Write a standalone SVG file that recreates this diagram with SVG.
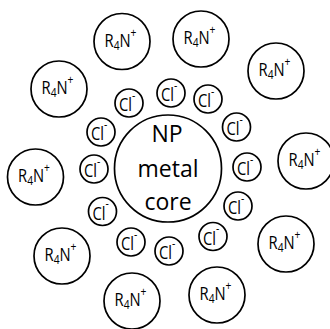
<svg xmlns="http://www.w3.org/2000/svg" width="330" height="329" viewBox="0 0 330 329">
<style>
circle{fill:#fff;stroke:#000;stroke-width:1.7}
text{font-family:"Open Sans","Noto Sans",sans-serif;fill:#000}
.core{font-size:23px;text-anchor:middle}
.ion{font-size:18px}
.cl{font-size:18px}
.s{font-size:12.5px}
</style>
<rect width="330" height="329" fill="#fff"/>
<g id="core">
<circle cx="168" cy="168.5" r="53.5"/>
<text class="core" x="167" y="142">NP</text>
<text class="core" x="168" y="177">metal</text>
<text class="core" x="168" y="210">core</text>
</g>
<g id="chlorides">
<g id="cl1"><circle cx="129" cy="103" r="14"/><text class="cl" transform="translate(129 103) scale(.82 1)" x="-12.2" y="8">Cl<tspan class="s" dy="-11.4">-</tspan></text></g>
<g id="cl2"><circle cx="171" cy="93" r="14"/><text class="cl" transform="translate(171 93) scale(.82 1)" x="-12.2" y="8">Cl<tspan class="s" dy="-11.4">-</tspan></text></g>
<g id="cl3"><circle cx="208" cy="99" r="14"/><text class="cl" transform="translate(208 99) scale(.82 1)" x="-12.2" y="8">Cl<tspan class="s" dy="-11.4">-</tspan></text></g>
<g id="cl4"><circle cx="101" cy="132" r="14"/><text class="cl" transform="translate(101 132) scale(.82 1)" x="-12.2" y="8">Cl<tspan class="s" dy="-11.4">-</tspan></text></g>
<g id="cl5"><circle cx="236.5" cy="127" r="14"/><text class="cl" transform="translate(236.5 127) scale(.82 1)" x="-12.2" y="8">Cl<tspan class="s" dy="-11.4">-</tspan></text></g>
<g id="cl6"><circle cx="94" cy="169" r="14"/><text class="cl" transform="translate(94 169) scale(.82 1)" x="-12.2" y="8">Cl<tspan class="s" dy="-11.4">-</tspan></text></g>
<g id="cl7"><circle cx="247" cy="167" r="14"/><text class="cl" transform="translate(247 167) scale(.82 1)" x="-12.2" y="8">Cl<tspan class="s" dy="-11.4">-</tspan></text></g>
<g id="cl8"><circle cx="102.5" cy="211.5" r="14"/><text class="cl" transform="translate(102.5 211.5) scale(.82 1)" x="-12.2" y="8">Cl<tspan class="s" dy="-11.4">-</tspan></text></g>
<g id="cl9"><circle cx="238" cy="206" r="14"/><text class="cl" transform="translate(238 206) scale(.82 1)" x="-12.2" y="8">Cl<tspan class="s" dy="-11.4">-</tspan></text></g>
<g id="cl10"><circle cx="131" cy="242" r="14"/><text class="cl" transform="translate(131 242) scale(.82 1)" x="-12.2" y="8">Cl<tspan class="s" dy="-11.4">-</tspan></text></g>
<g id="cl11"><circle cx="169" cy="251" r="14"/><text class="cl" transform="translate(169 251) scale(.82 1)" x="-12.2" y="8">Cl<tspan class="s" dy="-11.4">-</tspan></text></g>
<g id="cl12"><circle cx="213" cy="236.5" r="14"/><text class="cl" transform="translate(213 236.5) scale(.82 1)" x="-12.2" y="8">Cl<tspan class="s" dy="-11.4">-</tspan></text></g>
</g>
<g id="cations">
<g id="r1"><circle cx="122" cy="41.5" r="28"/><text class="ion" transform="translate(122 41.5) scale(.82 1)" x="-21.3" y="5.4">R<tspan class="s" dy="3">4</tspan><tspan dy="-3">N</tspan><tspan class="s" dy="-10.2">+</tspan></text></g>
<g id="r2"><circle cx="201" cy="39" r="28"/><text class="ion" transform="translate(201 39) scale(.82 1)" x="-21.3" y="5.4">R<tspan class="s" dy="3">4</tspan><tspan dy="-3">N</tspan><tspan class="s" dy="-10.2">+</tspan></text></g>
<g id="r3"><circle cx="276" cy="71" r="28"/><text class="ion" transform="translate(276 71) scale(.82 1)" x="-21.3" y="5.4">R<tspan class="s" dy="3">4</tspan><tspan dy="-3">N</tspan><tspan class="s" dy="-10.2">+</tspan></text></g>
<g id="r4"><circle cx="59" cy="89" r="28"/><text class="ion" transform="translate(59 89) scale(.82 1)" x="-21.3" y="5.4">R<tspan class="s" dy="3">4</tspan><tspan dy="-3">N</tspan><tspan class="s" dy="-10.2">+</tspan></text></g>
<g id="r5"><circle cx="306" cy="161" r="28"/><text class="ion" transform="translate(306 161) scale(.82 1)" x="-21.3" y="5.4">R<tspan class="s" dy="3">4</tspan><tspan dy="-3">N</tspan><tspan class="s" dy="-10.2">+</tspan></text></g>
<g id="r6"><circle cx="35.5" cy="177" r="28"/><text class="ion" transform="translate(35.5 177) scale(.82 1)" x="-21.3" y="5.4">R<tspan class="s" dy="3">4</tspan><tspan dy="-3">N</tspan><tspan class="s" dy="-10.2">+</tspan></text></g>
<g id="r7"><circle cx="286" cy="244" r="28"/><text class="ion" transform="translate(286 244) scale(.82 1)" x="-21.3" y="5.4">R<tspan class="s" dy="3">4</tspan><tspan dy="-3">N</tspan><tspan class="s" dy="-10.2">+</tspan></text></g>
<g id="r8"><circle cx="62" cy="256" r="28"/><text class="ion" transform="translate(62 256) scale(.82 1)" x="-21.3" y="5.4">R<tspan class="s" dy="3">4</tspan><tspan dy="-3">N</tspan><tspan class="s" dy="-10.2">+</tspan></text></g>
<g id="r9"><circle cx="217" cy="295" r="28"/><text class="ion" transform="translate(217 295) scale(.82 1)" x="-21.3" y="5.4">R<tspan class="s" dy="3">4</tspan><tspan dy="-3">N</tspan><tspan class="s" dy="-10.2">+</tspan></text></g>
<g id="r10"><circle cx="132" cy="301" r="28"/><text class="ion" transform="translate(132 301) scale(.82 1)" x="-21.3" y="5.4">R<tspan class="s" dy="3">4</tspan><tspan dy="-3">N</tspan><tspan class="s" dy="-10.2">+</tspan></text></g>
</g>
<g id="connectors"/>
</svg>
